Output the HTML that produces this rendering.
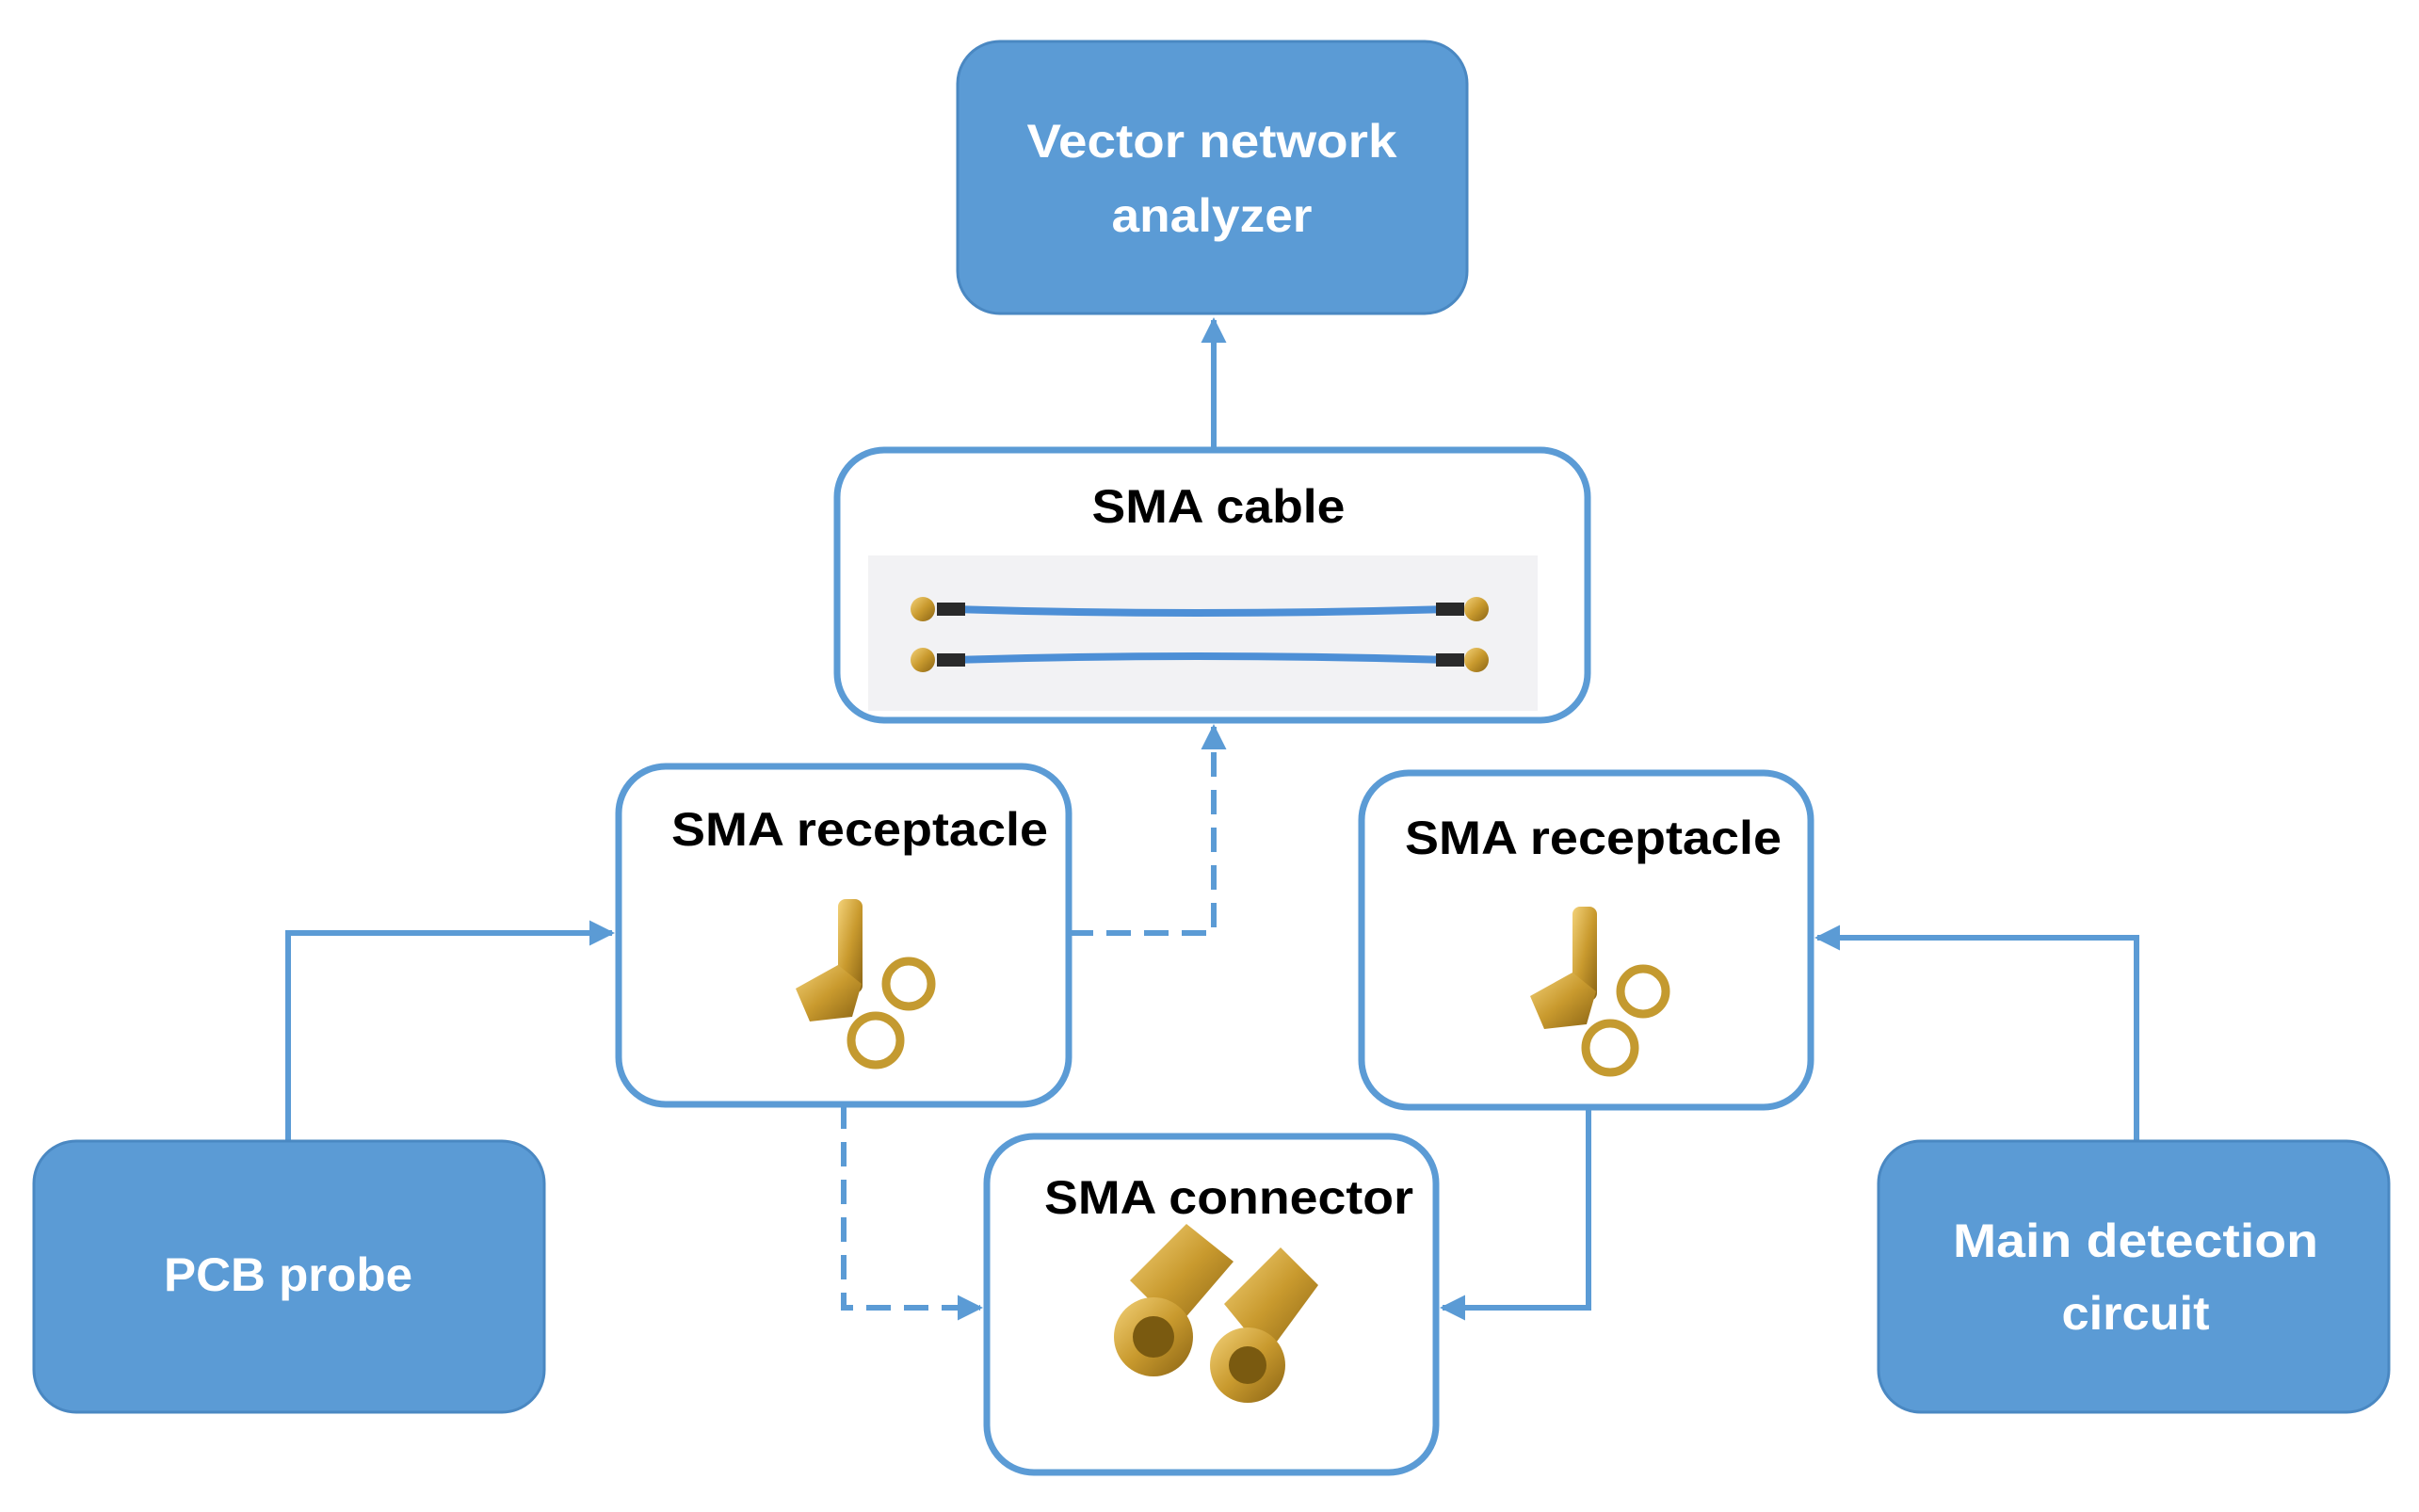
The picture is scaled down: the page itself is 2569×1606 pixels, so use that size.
<!DOCTYPE html>
<html><head><meta charset="utf-8"><style>html,body{margin:0;padding:0;background:#fff}svg{display:block}</style></head>
<body>
<svg width="2569" height="1606" viewBox="0 0 2569 1606" xmlns="http://www.w3.org/2000/svg" font-family="Liberation Sans, sans-serif" font-weight="bold">
<defs>
<marker id="ah" markerWidth="4.5" markerHeight="4.5" refX="4" refY="2.25" orient="auto" markerUnits="strokeWidth"><path d="M0,0 L4.5,2.25 L0,4.5 z" fill="#5B9BD5"/></marker>
<linearGradient id="gold" x1="0" y1="0" x2="1" y2="1"><stop offset="0" stop-color="#f3d27a"/><stop offset="0.5" stop-color="#c99a2e"/><stop offset="1" stop-color="#8a6414"/></linearGradient>
</defs>
<g stroke="#5B9BD5" stroke-width="6" fill="none">
<line x1="1289" y1="478" x2="1289" y2="340" marker-end="url(#ah)"/>
<polyline points="1135,991 1289,991 1289,772" stroke-dasharray="26,14" marker-end="url(#ah)"/>
<polyline points="306,1212 306,991 650,991" marker-end="url(#ah)"/>
<polyline points="2269,1212 2269,996 1930,996" marker-end="url(#ah)"/>
<polyline points="896,1173 896,1389 1041,1389" stroke-dasharray="26,14" marker-end="url(#ah)"/>
<polyline points="1687,1176 1687,1389 1532,1389" marker-end="url(#ah)"/>
</g>
<g fill="#5B9BD5" stroke="#4A88C2" stroke-width="3">
<rect x="1017" y="44" width="541" height="289" rx="45"/>
<rect x="36" y="1212" width="542" height="288" rx="45"/>
<rect x="1995" y="1212" width="542" height="288" rx="45"/>
</g>
<g fill="#fff" stroke="#5B9BD5" stroke-width="7">
<rect x="889" y="478" width="797" height="287" rx="50"/>
<rect x="657" y="814" width="478" height="359" rx="50"/>
<rect x="1446" y="821" width="477" height="355" rx="50"/>
<rect x="1048" y="1207" width="477" height="357" rx="50"/>
</g>
<rect x="922" y="590" width="711" height="165" fill="#f2f2f4"/>
<g stroke="#4d8fd6" stroke-width="8" fill="none">
<path d="M1010,647 Q1270,655 1540,647"/>
<path d="M1010,701 Q1270,693 1540,701"/>
</g>
<g fill="#2a2a2a"><rect x="995" y="640" width="30" height="14"/><rect x="1525" y="640" width="30" height="14"/><rect x="995" y="694" width="30" height="14"/><rect x="1525" y="694" width="30" height="14"/></g>
<g fill="url(#gold)"><circle cx="980" cy="647" r="13"/><circle cx="1568" cy="647" r="13"/><circle cx="980" cy="701" r="13"/><circle cx="1568" cy="701" r="13"/></g>
<g id="rec">
<rect x="890" y="955" width="26" height="100" rx="8" fill="url(#gold)"/>
<path d="M845,1050 L890,1025 L915,1045 L905,1080 L860,1085 Z" fill="url(#gold)"/>
<circle cx="965" cy="1045" r="24" fill="none" stroke="#c49a30" stroke-width="9"/>
<circle cx="930" cy="1105" r="26" fill="none" stroke="#c49a30" stroke-width="9"/>
</g>
<use href="#rec" transform="translate(780,8)"/>
<g fill="url(#gold)">
<path d="M1200,1360 L1260,1300 L1310,1340 L1250,1410 Z"/>
<circle cx="1225" cy="1420" r="42"/>
<path d="M1300,1385 L1360,1325 L1400,1365 L1345,1440 Z"/>
<circle cx="1325" cy="1450" r="40"/>
</g>
<circle cx="1225" cy="1420" r="22" fill="#7a5a10"/>
<circle cx="1325" cy="1450" r="20" fill="#7a5a10"/>
<g fill="#fff" font-size="50" text-anchor="middle">
<text x="1287" y="167" textLength="393" lengthAdjust="spacingAndGlyphs">Vector network</text>
<text x="1287" y="246" textLength="213" lengthAdjust="spacingAndGlyphs">analyzer</text>
<text x="306" y="1371" textLength="264" lengthAdjust="spacingAndGlyphs">PCB probe</text>
<text x="2268" y="1335" textLength="388" lengthAdjust="spacingAndGlyphs">Main detection</text>
<text x="2268" y="1412" textLength="157" lengthAdjust="spacingAndGlyphs">circuit</text>
</g>
<g fill="#000" font-size="50" text-anchor="middle">
<text x="1294" y="555" textLength="269" lengthAdjust="spacingAndGlyphs">SMA cable</text>
<text x="913" y="898" textLength="400" lengthAdjust="spacingAndGlyphs">SMA receptacle</text>
<text x="1692" y="907" textLength="400" lengthAdjust="spacingAndGlyphs">SMA receptacle</text>
<text x="1305" y="1289" textLength="392" lengthAdjust="spacingAndGlyphs">SMA connector</text>
</g>
</svg>
</body></html>
